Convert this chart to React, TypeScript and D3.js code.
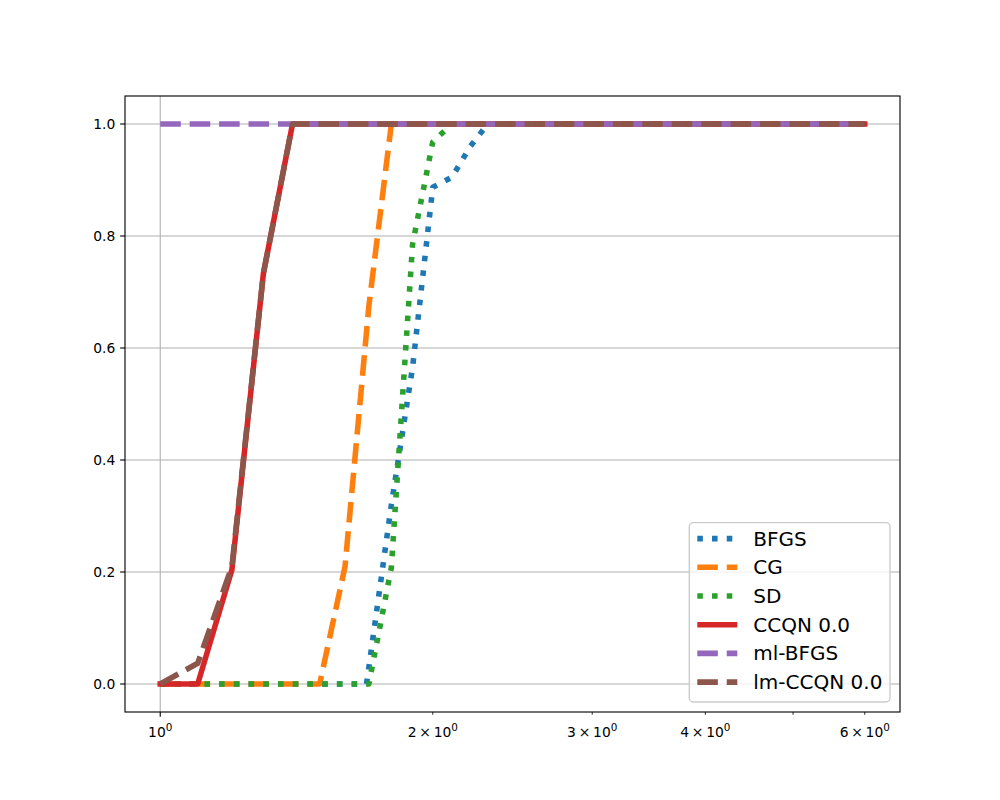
import React, { useEffect, useRef } from 'react';
import * as d3 from 'd3';

// series (x = performance ratio, y = fraction of problems)
const seriesNames = ['BFGS', 'CG', 'SD', 'CCQN 0.0', 'ml-BFGS', 'lm-CCQN 0.0'];
const seriesColors = ['#1f77b4', '#ff7f0e', '#2ca02c', '#d62728', '#9467bd', '#8c564b'];
const seriesStyles = ['dotted', 'dashed', 'dotted', 'solid', 'dashed', 'dashed'];

const bfgsX = [1, 1.69, 1.8, 1.9, 2.0, 2.1, 2.2, 2.3, 6];
const bfgsY = [0, 0, 0.32, 0.566, 0.887, 0.905, 0.96, 1, 1];
const cgX = [1, 1.5, 1.6, 1.7, 1.8, 6];
const cgY = [0, 0, 0.21, 0.675, 1, 1];
const sdX = [1, 1.7, 1.8, 1.9, 2.0, 2.1, 6];
const sdY = [0, 0, 0.208, 0.786, 0.968, 1, 1];
const ccqnX = [1, 1.1, 1.2, 1.3, 1.4, 6];
const ccqnY = [0, 0, 0.204, 0.733, 1, 1];
const mlbfgsX = [1, 6];
const mlbfgsY = [1, 1];
const lmccqnX = [1, 1.1, 1.2, 1.3, 1.4, 6];
const lmccqnY = [0, 0.037, 0.21, 0.733, 1, 1];

const allX = [bfgsX, cgX, sdX, ccqnX, mlbfgsX, lmccqnX];
const allY = [bfgsY, cgY, sdY, ccqnY, mlbfgsY, lmccqnY];

const yTicks = [0, 0.2, 0.4, 0.6, 0.8, 1.0];
const xMajorTicks = [1];
const xMinorTicks = [2, 3, 4, 5, 6];
const xMinorLabels: Record<number, string> = { 2: '2', 3: '3', 4: '4', 6: '6' };

export default function App() {
    const svgRef = useRef<SVGSVGElement>(null);

    useEffect(() => {
        if (!svgRef.current) return;
        const svg = d3.select(svgRef.current);
        svg.selectAll('*').remove();

        const width = 1000;
        const height = 800;
        const margin = { top: 96, right: 100, bottom: 88, left: 125 };
        const iw = width - margin.left - margin.right;
        const ih = height - margin.top - margin.bottom;
        const font = 'DejaVu Sans, sans-serif';
        const px = 100 / 72;
        const lw = 4 * px;

        // matplotlib style 5% margins in log space
        const lmin = 0, lmax = Math.log10(6);
        const pad = (lmax - lmin) * 0.05;
        const xScale = d3.scaleLog()
            .domain([Math.pow(10, lmin - pad), Math.pow(10, lmax + pad)])
            .range([0, iw]);
        const yScale = d3.scaleLinear().domain([-0.05, 1.05]).range([ih, 0]);

        svg.append('rect').attr('width', width).attr('height', height).attr('fill', 'white');

        const g = svg.append('g').attr('transform', `translate(${margin.left}, ${margin.top})`);

        g.append('defs').append('clipPath').attr('id', 'plotclip')
            .append('rect').attr('width', iw).attr('height', ih);

        // grid
        const grid = g.append('g').attr('stroke', '#b0b0b0').attr('stroke-width', 0.8 * px);
        yTicks.forEach(t => {
            grid.append('line').attr('x1', 0).attr('x2', iw)
                .attr('y1', yScale(t)).attr('y2', yScale(t));
        });
        xMajorTicks.forEach(t => {
            grid.append('line').attr('x1', xScale(t)).attr('x2', xScale(t))
                .attr('y1', 0).attr('y2', ih);
        });

        // lines
        const dashFor = (s: string) => {
            if (s === 'dotted') return `${1 * lw},${1.65 * lw}`;
            if (s === 'dashed') return `${3.7 * lw},${1.6 * lw}`;
            return null;
        };
        const lines = g.append('g').attr('clip-path', 'url(#plotclip)');
        seriesNames.forEach((name, i) => {
            const pts: [number, number][] = allX[i].map((x, j) => [x, allY[i][j]]);
            const line = d3.line<[number, number]>()
                .x(d => xScale(d[0]))
                .y(d => yScale(d[1]));
            const p = lines.append('path')
                .datum(pts)
                .attr('d', line)
                .attr('fill', 'none')
                .attr('stroke', seriesColors[i])
                .attr('stroke-width', lw)
                .attr('stroke-linejoin', 'round')
                .attr('stroke-linecap', seriesStyles[i] === 'solid' ? 'square' : 'butt');
            const dash = dashFor(seriesStyles[i]);
            if (dash) p.attr('stroke-dasharray', dash);
        });

        // frame
        g.append('rect').attr('width', iw).attr('height', ih)
            .attr('fill', 'none').attr('stroke', 'black').attr('stroke-width', 0.8 * px);

        // y axis
        const yAxis = g.append('g');
        yTicks.forEach(t => {
            yAxis.append('line').attr('x1', 0).attr('x2', -3.5 * px)
                .attr('y1', yScale(t)).attr('y2', yScale(t))
                .attr('stroke', 'black').attr('stroke-width', 0.8 * px);
            yAxis.append('text')
                .attr('x', -7 * px).attr('y', yScale(t) + 5)
                .attr('text-anchor', 'end')
                .attr('font-family', font).attr('font-size', 10 * px)
                .text(t.toFixed(1));
        });

        // x axis
        const xAxis = g.append('g');
        const labelY = ih + 25;
        xMajorTicks.forEach(t => {
            xAxis.append('line').attr('x1', xScale(t)).attr('x2', xScale(t))
                .attr('y1', ih).attr('y2', ih + 3.5 * px)
                .attr('stroke', 'black').attr('stroke-width', 0.8 * px);
            const txt = xAxis.append('text')
                .attr('x', xScale(t)).attr('y', labelY)
                .attr('text-anchor', 'middle')
                .attr('font-family', font).attr('font-size', 10 * px);
            txt.append('tspan').text('10');
            txt.append('tspan').attr('dy', -6).attr('font-size', 7.5 * px).text('0');
        });
        xMinorTicks.forEach(t => {
            xAxis.append('line').attr('x1', xScale(t)).attr('x2', xScale(t))
                .attr('y1', ih).attr('y2', ih + 2 * px)
                .attr('stroke', 'black').attr('stroke-width', 0.6 * px);
            const lab = xMinorLabels[t];
            if (!lab) return;
            const txt = xAxis.append('text')
                .attr('x', xScale(t)).attr('y', labelY)
                .attr('text-anchor', 'middle')
                .attr('font-family', font).attr('font-size', 10 * px);
            txt.append('tspan').text(`${lab}\u2009\u00d7\u200910`);
            txt.append('tspan').attr('dy', -6).attr('font-size', 7.5 * px).text('0');
        });

        // legend
        const fs = 14.4 * px;
        const legW = 200.7;
        const legH = 179.4;
        const legX = iw - 10 - legW;
        const legY = ih - 10 - legH;
        const leg = g.append('g').attr('transform', `translate(${legX}, ${legY})`);
        leg.append('rect').attr('width', legW).attr('height', legH)
            .attr('rx', 4).attr('ry', 4)
            .attr('fill', 'white').attr('fill-opacity', 0.8)
            .attr('stroke', '#cccccc').attr('stroke-width', 1 * px);
        seriesNames.forEach((name, i) => {
            const cy = 16 + i * 28.7;
            const h = leg.append('line')
                .attr('x1', 8).attr('x2', 8 + 2 * fs)
                .attr('y1', cy).attr('y2', cy)
                .attr('stroke', seriesColors[i])
                .attr('stroke-width', lw);
            const dash = dashFor(seriesStyles[i]);
            if (dash) h.attr('stroke-dasharray', dash);
            leg.append('text')
                .attr('x', 8 + 2 * fs + 0.8 * fs).attr('y', cy + 7)
                .attr('font-family', font).attr('font-size', fs)
                .attr('fill', 'black')
                .text(name);
        });
    }, []);

    return (
        <svg ref={svgRef} width={1000} height={800} style={{ display: 'block', margin: '-8px' }}></svg>
    );
}
